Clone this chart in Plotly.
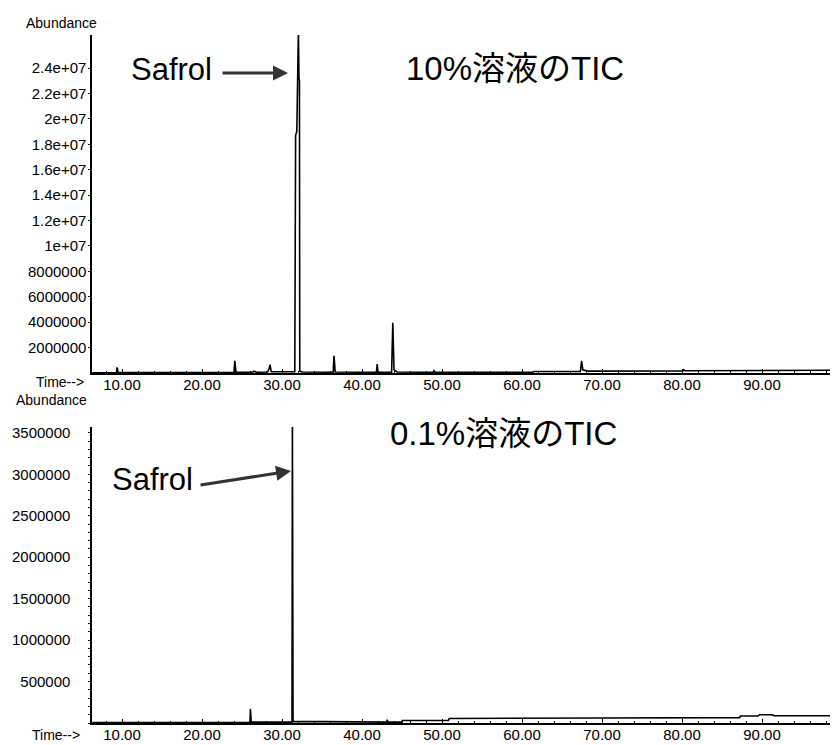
import plotly.graph_objects as go

# ---------------- data ----------------
time_top = [6.3, 9.3, 9.4, 9.5, 24.0, 24.1, 24.25, 26.3, 26.5, 26.8,
            28.2, 28.4, 28.5, 28.65,
            31.6, 31.7, 31.85, 31.95, 32.05, 32.12, 32.18, 32.22, 32.5,
            36.4, 36.5, 36.65, 41.8, 41.9, 42.0,
            43.7, 43.85, 44.0, 44.4, 48.9, 49.0, 49.15, 61.3, 61.5,
            67.3, 67.45, 67.6, 68.2, 80.1, 80.2, 80.35, 98.6]
abund_top = [0.02e6, 0.03e6, 0.45e6, 0.03e6, 0.04e6, 0.95e6, 0.06e6, 0.05e6, 0.15e6, 0.06e6,
             0.08e6, 0.35e6, 0.65e6, 0.10e6,
             0.10e6, 1.87e7, 1.90e7, 2.70e7, 2.70e7, 2.32e7, 2.30e7, 0.15e6, 0.08e6,
             0.06e6, 1.35e6, 0.08e6, 0.05e6, 0.70e6, 0.05e6,
             0.05e6, 3.95e6, 0.25e6, 0.08e6, 0.05e6, 0.18e6, 0.05e6, 0.05e6, 0.12e6,
             0.13e6, 0.95e6, 0.25e6, 0.15e6, 0.17e6, 0.25e6, 0.18e6, 0.22e6]

time_bot = [6.3, 26.0, 26.05, 26.15, 31.25, 31.3, 31.38, 43.1, 43.15, 43.25,
            45.0, 45.05, 50.8, 50.9, 70.0, 87.2, 87.3, 89.5, 89.7, 91.3, 91.5, 98.6]
abund_bot = [0.005e6, 0.008e6, 0.17e6, 0.01e6, 0.01e6, 3.7e6, 0.02e6, 0.01e6, 0.04e6, 0.01e6,
             0.01e6, 0.03e6, 0.03e6, 0.055e6, 0.06e6, 0.065e6, 0.085e6, 0.085e6, 0.10e6, 0.10e6,
             0.088e6, 0.088e6]

x_ticks = [10, 20, 30, 40, 50, 60, 70, 80, 90]
x_ticktext = ["10.00", "20.00", "30.00", "40.00", "50.00", "60.00", "70.00", "80.00", "90.00"]
y_top_ticks = [2e6, 4e6, 6e6, 8e6, 1e7, 1.2e7, 1.4e7, 1.6e7, 1.8e7, 2e7, 2.2e7, 2.4e7]
y_top_text = ["2000000", "4000000", "6000000", "8000000", "1e+07", "1.2e+07", "1.4e+07",
              "1.6e+07", "1.8e+07", "2e+07", "2.2e+07", "2.4e+07"]
y_bot_ticks = [5e5, 1e6, 1.5e6, 2e6, 2.5e6, 3e6, 3.5e6]
y_bot_text = ["500000", "1000000", "1500000", "2000000", "2500000", "3000000", "3500000"]

title_top = "10%溶液のTIC"
title_bot = "0.1%溶液のTIC"
peak_label = "Safrol"

# ---------------- layout helpers ----------------
W, H = 832, 745
L, R = 92, 2
PW = W - L - R


def px(x):
    return (x - L) / PW


def py(y):
    return 1 - y / H


FONT = "Liberation Sans, Arial, sans-serif"
JFONT = "Liberation Sans, Noto Sans CJK JP, sans-serif"

fig = go.Figure()
fig.add_trace(go.Scatter(x=time_top, y=abund_top, mode="lines",
                         line=dict(color="black", width=1.6), xaxis="x", yaxis="y",
                         showlegend=False, hoverinfo="skip"))
fig.add_trace(go.Scatter(x=time_bot, y=abund_bot, mode="lines",
                         line=dict(color="black", width=1.6), xaxis="x2", yaxis="y2",
                         showlegend=False, hoverinfo="skip"))

xcommon = dict(range=[6.25, 98.5], tickvals=x_ticks, ticktext=x_ticktext,
               ticks="inside", ticklen=4, tickcolor="black", tickwidth=1,
               showline=True, linecolor="black", linewidth=1.6, showgrid=False,
               zeroline=False, tickfont=dict(family=FONT, size=15, color="black"),
               minor=dict(ticks="inside", ticklen=2, dtick=2, tickcolor="black"),
               ticklabelstandoff=-3, automargin=False)

fig.update_layout(
    template="none",
    width=W, height=H,
    margin=dict(l=L, r=R, t=0, b=0, pad=0),
    paper_bgcolor="white", plot_bgcolor="white",
    showlegend=False,
    xaxis=dict(domain=[0, 1], anchor="y", **xcommon),
    xaxis2=dict(domain=[0, 1], anchor="y2", **xcommon),
    yaxis=dict(domain=[py(373), py(35)], range=[0, 2.66e7], tickvals=y_top_ticks,
               ticktext=y_top_text, ticks="outside", ticklen=2, tickcolor="black",
               showline=True, linecolor="black", linewidth=1.6, showgrid=False,
               zeroline=False, tickfont=dict(family=FONT, size=15, color="black"),
               ticklabelstandoff=-1, automargin=False),
    yaxis2=dict(domain=[py(723), py(427)], range=[0, 3.57e6], tickvals=y_bot_ticks,
                ticktext=y_bot_text, ticks="outside", ticklen=2, tickcolor="black",
                showline=True, linecolor="black", linewidth=1.6, showgrid=False,
                zeroline=False, tickfont=dict(family=FONT, size=15, color="black"),
                ticklabelstandoff=15, automargin=False,
                minor=dict(ticks="outside", ticklen=2, dtick=1e5, tickcolor="black")),
)

ann = []
small = dict(family=FONT, size=14, color="black")
ann.append(dict(x=px(61), y=py(23), text="Abundance", font=small))
ann.append(dict(x=px(51), y=py(391), text="Abundance", font=small, yanchor="top"))
ann.append(dict(x=px(60), y=py(391), text="Time-->", font=small, yanchor="bottom"))
ann.append(dict(x=px(56), y=py(735), text="Time-->", font=small))

big = dict(family=FONT, size=31, color="black")
ann.append(dict(x=px(171), y=py(69), text=peak_label, font=big))
ann.append(dict(x=px(152), y=py(480), text=peak_label, font=big))
jbig = dict(family=JFONT, size=33, color="black")
ann.append(dict(x=px(515), y=py(68), text=title_top, font=jbig))
ann.append(dict(x=px(503), y=py(433), text=title_bot, font=jbig))

# arrows
ann.append(dict(x=px(288), y=py(73), ax=-66, ay=0, text="", showarrow=True,
                arrowhead=2, arrowsize=1, arrowwidth=3, arrowcolor="#333333"))
ann.append(dict(x=px(291), y=py(471), ax=-91, ay=14, text="", showarrow=True,
                arrowhead=2, arrowsize=1, arrowwidth=3, arrowcolor="#333333"))

for a in ann:
    a.setdefault("showarrow", False)
    a.setdefault("yanchor", "middle")
    a["xref"] = "paper"
    a["yref"] = "paper"
    a["xanchor"] = "center"
    a["borderpad"] = 0
fig.update_layout(annotations=ann)

fig.write_html("out.html",
               config={"displayModeBar": False, "staticPlot": True},
               post_script="document.body.style.margin='0';document.body.style.overflow='hidden';")
